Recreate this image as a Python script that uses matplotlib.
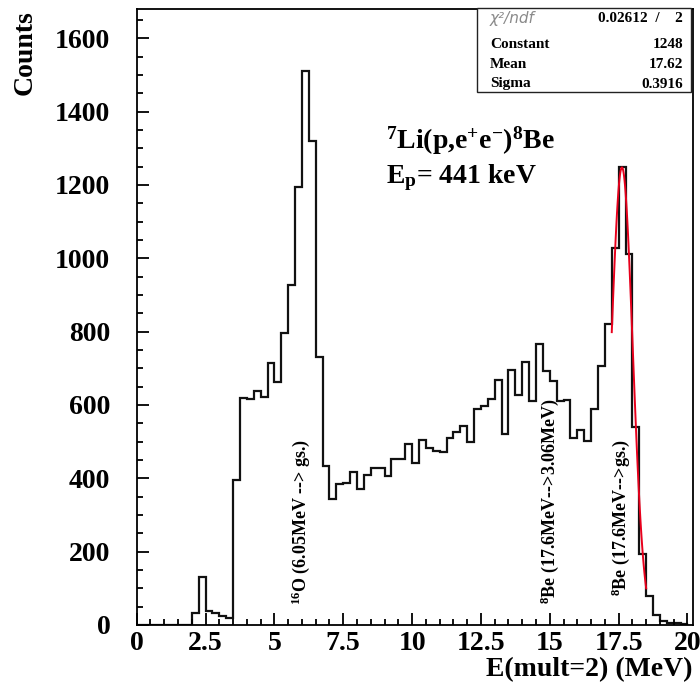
import numpy as np
import matplotlib
matplotlib.use('Agg')
import matplotlib.pyplot as plt
from matplotlib.patches import Rectangle
from matplotlib.ticker import MultipleLocator

plt.rcParams['font.family'] = 'Liberation Serif'
plt.rcParams['font.weight'] = 'bold'
plt.rcParams['mathtext.fontset'] = 'custom'
plt.rcParams['mathtext.rm'] = 'Liberation Serif:bold'
plt.rcParams['mathtext.it'] = 'Liberation Serif:bold'
plt.rcParams['mathtext.bf'] = 'Liberation Serif:bold'

# E(mult=2) spectrum, 0.25 MeV bins from 0 to 20 MeV
e_lo, e_hi, nbins = 0.0, 20.0, 80
counts = [
    0, 0, 0, 0, 0, 0, 0, 0,                      # 0.0 - 2.0
    32, 130, 38, 32, 25, 18, 395, 620,           # 2.0 - 4.0
    615, 639, 623, 715, 664, 797, 927, 1195,     # 4.0 - 6.0
    1512, 1321, 730, 434, 345, 385, 387, 416,    # 6.0 - 8.0
    371, 410, 427, 427, 406, 453, 453, 495,      # 8.0 - 10.0
    443, 505, 484, 474, 472, 510, 525, 544,      # 10.0 - 12.0
    498, 588, 596, 615, 667, 521, 696, 628,      # 12.0 - 14.0
    718, 611, 767, 692, 665, 610, 614, 510,      # 14.0 - 16.0
    532, 502, 590, 705, 821, 1027, 1248, 1012,   # 16.0 - 18.0
    541, 195, 79, 27, 12, 6, 5, 2,               # 18.0 - 20.0
]

# gaussian fit of the 17.6 MeV line
fit_const, fit_mean, fit_sigma = 1248, 17.62, 0.3916
fit_range = (17.25, 18.5)
chi2, ndf = 0.02612, 2

line_labels = [r'$^{16}$O (6.05MeV --> gs.)',
               r'$^{8}$Be (17.6MeV-->3.06MeV)',
               r'$^{8}$Be (17.6MeV-->gs.)']
line_label_pos = [(5.96, 55), (15.0, 58), (17.58, 78)]

W, H = 700, 688
fig = plt.figure(figsize=(W / 100, H / 100), dpi=100)
ax = fig.add_axes([136.7 / W, 1 - 625 / H, (693 - 136.7) / W, (625 - 9) / H])

edges = np.linspace(e_lo, e_hi, nbins + 1)
ax.stairs(counts, edges, color='#111111', lw=1.6, baseline=0)

xf = np.linspace(*fit_range, 100)
yf = fit_const * np.exp(-0.5 * ((xf - fit_mean) / fit_sigma) ** 2)
ax.plot(xf, yf, color='#e8001c', lw=1.4)

ax.set_xlim(0, 20.2)
ax.set_ylim(0, 1680)
ax.xaxis.set_major_locator(MultipleLocator(2.5))
ax.xaxis.set_minor_locator(MultipleLocator(0.5))
ax.yaxis.set_major_locator(MultipleLocator(200))
ax.yaxis.set_minor_locator(MultipleLocator(50))
ax.tick_params(which='both', direction='in', top=False, right=False,
               width=1.3, labelsize=20)
ax.tick_params(which='major', length=8.5)
ax.tick_params(which='minor', length=4.3)
ax.tick_params(axis='y', pad=19)
ax.tick_params(axis='x', pad=4)
ax.set_xticks([0, 2.5, 5, 7.5, 10, 12.5, 15, 17.5, 20])
ax.set_xticklabels(['0', '2.5', '5', '7.5', '10', '12.5', '15', '17.5', '20'])
for sp in ax.spines.values():
    sp.set_linewidth(1.3)

for txt, (xe, yc) in zip(line_labels, line_label_pos):
    ax.text(xe, yc, txt, rotation=90, ha='center', va='bottom', fontsize=13)

fig.text(25 / W, 1 - 10 / H, 'Counts', rotation=90, ha='center', va='top',
         fontsize=20)
fig.text(693 / W, 1 - 670 / H, 'E(mult=2) (MeV)', ha='right', va='center',
         fontsize=20)

fig.text(386 / W, 1 - 149 / H, r'$^{7}$Li(p,e$^{+}$e$^{-}$)$^{8}$Be',
         ha='left', va='baseline', fontsize=20)
fig.text(386 / W, 1 - 183 / H, r'E$_{p}$= 441 keV',
         ha='left', va='baseline', fontsize=20)

# fit statistics box
bx0, bx1, by0, by1 = 477, 691, 8, 92
fig.patches.append(Rectangle((bx0 / W, 1 - by1 / H), (bx1 - bx0) / W,
                             (by1 - by0) / H, transform=fig.transFigure,
                             fill=True, facecolor='white', edgecolor='#222222',
                             lw=1.0, zorder=5))
rows = [('Constant', f'{fit_const:g}'),
        ('Mean', f'{fit_mean:.2f}'),
        ('Sigma', f'{fit_sigma:.4f}')]
fig.text(490 / W, 1 - 18 / H, '\u03c7\u00b2/ndf', ha='left', va='center',
         fontsize=11, family='DejaVu Sans', weight='light', color='#8a8a8a',
         style='italic', zorder=6)
fig.text(683 / W, 1 - 18 / H, f'{chi2:.5f}  /    {ndf}', ha='right',
         va='center', fontsize=11, zorder=6)
for i, (name, val) in enumerate(rows):
    yy = 1 - (44 + 20 * i) / H
    fig.text(490 / W, yy, name, ha='left', va='center', fontsize=11, zorder=6)
    fig.text(683 / W, yy, val, ha='right', va='center', fontsize=11, zorder=6)

fig.savefig('out.png', dpi=100)
